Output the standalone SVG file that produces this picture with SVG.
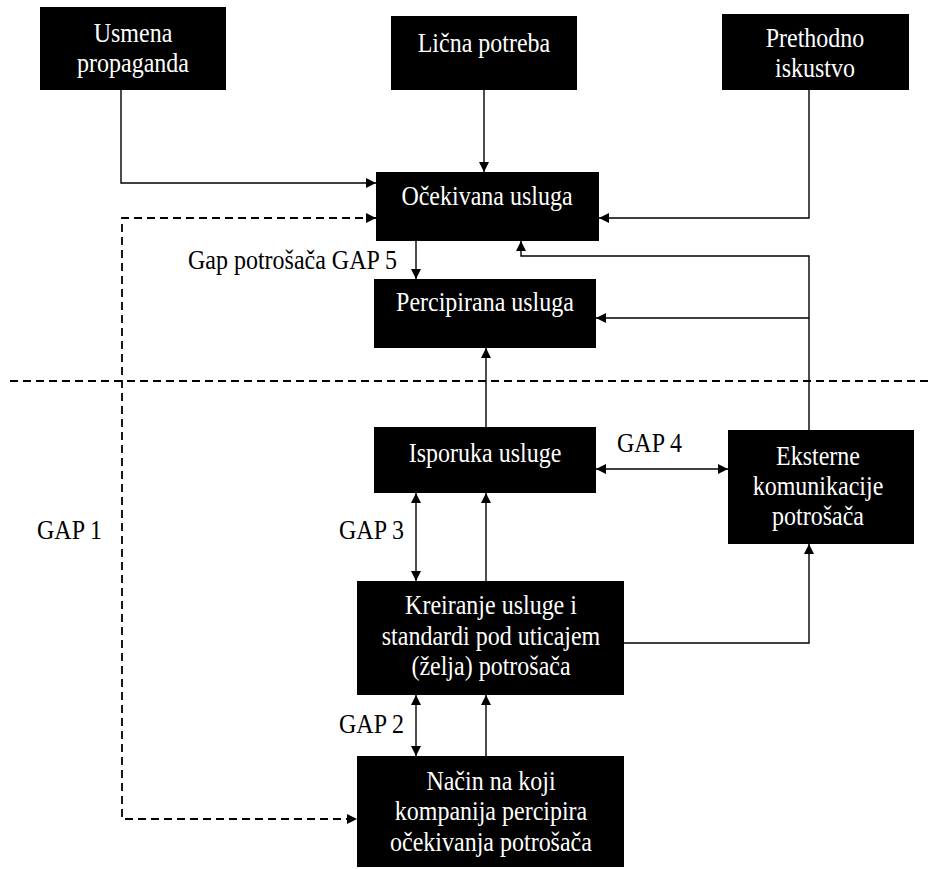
<svg xmlns="http://www.w3.org/2000/svg" width="932" height="869" viewBox="0 0 932 869">
  <style>
    .box { fill: #000; }
    .lbl, .gap { font-family: "Liberation Serif", "Times New Roman", serif; font-size: 24px;
      transform-box: fill-box; transform-origin: 50% 78%; transform: scaleY(1.1); }
    .lbl { fill: #fff; text-anchor: middle; }
    .gap { fill: #000; }
    .ln { fill: none; stroke: #000; stroke-width: 1.4; }
    .dash { fill: none; stroke: #000; stroke-width: 1.8; stroke-dasharray: 8 5; }
  </style>
  <defs>
    <marker id="arr" viewBox="0 0 10 10" refX="10" refY="5" markerWidth="10" markerHeight="10" markerUnits="userSpaceOnUse" orient="auto-start-reverse">
      <path d="M0,0 L10,5 L0,10 z" fill="#000"/>
    </marker>
  </defs>
  <rect width="932" height="869" fill="#fff"/>

  <!-- connectors -->
  <g id="connectors">
    <polyline class="ln" points="121,90 121,183 376,183" marker-end="url(#arr)"/>
    <line class="ln" x1="484" y1="90" x2="484" y2="172" marker-end="url(#arr)"/>
    <polyline class="ln" points="809,90 809,218 599,218" marker-end="url(#arr)"/>
    <polyline class="ln" points="809,430 809,256 521,256 521,241" marker-end="url(#arr)"/>
    <line class="ln" x1="809" y1="318" x2="596" y2="318" marker-end="url(#arr)"/>
    <line class="ln" x1="416" y1="241" x2="416" y2="279" marker-end="url(#arr)"/>
    <line class="ln" x1="486" y1="427" x2="486" y2="348" marker-end="url(#arr)"/>
    <line class="ln" x1="596" y1="469" x2="728" y2="469" marker-start="url(#arr)" marker-end="url(#arr)"/>
    <line class="ln" x1="416" y1="493" x2="416" y2="581" marker-start="url(#arr)" marker-end="url(#arr)"/>
    <line class="ln" x1="486" y1="581" x2="486" y2="493" marker-end="url(#arr)"/>
    <polyline class="ln" points="624,643 809,643 809,544" marker-end="url(#arr)"/>
    <line class="ln" x1="416" y1="695" x2="416" y2="756" marker-start="url(#arr)" marker-end="url(#arr)"/>
    <line class="ln" x1="486" y1="756" x2="486" y2="695" marker-end="url(#arr)"/>
    <!-- GAP 1 loop -->
    <polyline class="dash" points="376,218 122,218 122,819 357,819"/>
    <path d="M376,218 l-10,-5 v10 z M357,819 l-10,-5 v10 z" fill="#000"/>
    <!-- boundary line -->
    <line class="dash" x1="10" y1="381" x2="932" y2="381"/>
  </g>

  <g id="usmena">
    <rect class="box" x="40" y="7" width="186" height="83"/>
    <text class="lbl" x="133" y="42">Usmena</text>
    <text class="lbl" x="133" y="72">propaganda</text>
  </g>
  <g id="licna">
    <rect class="box" x="391" y="16" width="186" height="74"/>
    <text class="lbl" x="484" y="52">Lična potreba</text>
  </g>
  <g id="prethodno">
    <rect class="box" x="722" y="14" width="187" height="76"/>
    <text class="lbl" x="815" y="47">Prethodno</text>
    <text class="lbl" x="815" y="77">iskustvo</text>
  </g>
  <g id="ocekivana">
    <rect class="box" x="376" y="172" width="223" height="69"/>
    <text class="lbl" x="487" y="205">Očekivana usluga</text>
  </g>
  <g id="percipirana">
    <rect class="box" x="374" y="279" width="222" height="69"/>
    <text class="lbl" x="485" y="311">Percipirana usluga</text>
  </g>
  <g id="isporuka">
    <rect class="box" x="374" y="427" width="222" height="66"/>
    <text class="lbl" x="485" y="462">Isporuka usluge</text>
  </g>
  <g id="eksterne">
    <rect class="box" x="728" y="430" width="186" height="114"/>
    <text class="lbl" x="818" y="465">Eksterne</text>
    <text class="lbl" x="818" y="495">komunikacije</text>
    <text class="lbl" x="818" y="525">potrošača</text>
  </g>
  <g id="kreiranje">
    <rect class="box" x="357" y="581" width="267" height="114"/>
    <text class="lbl" x="491" y="614">Kreiranje usluge i</text>
    <text class="lbl" x="491" y="645">standardi pod uticajem</text>
    <text class="lbl" x="491" y="675">(želja) potrošača</text>
  </g>
  <g id="nacin">
    <rect class="box" x="357" y="756" width="267" height="111"/>
    <text class="lbl" x="491" y="790">Način na koji</text>
    <text class="lbl" x="491" y="820">kompanija percipira</text>
    <text class="lbl" x="491" y="851">očekivanja potrošača</text>
  </g>

  <g id="gap-labels">
    <text class="gap" x="188" y="269">Gap potrošača GAP 5</text>
    <text class="gap" x="617" y="452">GAP 4</text>
    <text class="gap" x="339" y="539">GAP 3</text>
    <text class="gap" x="37" y="539">GAP 1</text>
    <text class="gap" x="339" y="733">GAP 2</text>
  </g>
</svg>
